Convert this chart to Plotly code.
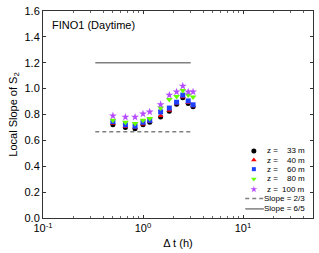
import plotly.graph_objects as go

# ---- data ----
dt_hours = [0.5, 0.667, 0.833, 1.0, 1.167, 1.5, 1.833, 2.167, 2.5, 2.833, 3.167]
heights = ["33", "40", "60", "80", "100"]
slope_z33 = [0.72, 0.70, 0.69, 0.72, 0.74, 0.78, 0.825, 0.88, 0.93, 0.885, 0.86]
slope_z40 = [0.73, 0.705, 0.70, 0.725, 0.745, 0.79, 0.83, 0.885, 0.935, 0.89, 0.865]
slope_z60 = [0.745, 0.72, 0.71, 0.74, 0.755, 0.82, 0.85, 0.895, 0.95, 0.905, 0.875]
slope_z80 = [0.755, 0.74, 0.73, 0.755, 0.77, 0.85, 0.915, 0.94, 0.985, 0.95, 0.935]
slope_z100 = [0.79, 0.78, 0.78, 0.805, 0.82, 0.877, 0.95, 0.975, 1.02, 0.975, 0.975]
ref_x = [1 / 3, 3.0]
ref_slopes = [2 / 3, 6 / 5]
ref_labels = ["Slope = 2/3", "Slope = 6/5"]

series = [slope_z33, slope_z40, slope_z60, slope_z80, slope_z100]
symbols = ["circle", "triangle-up", "square", "triangle-down", "star"]
colors = ["#000000", "#ff0000", "#1f3fff", "#66ff00", "#b64cff"]
sizes = [5, 5, 5, 6, 6]
leg_sizes = [5, 5, 4, 5, 5]
ref_dash = ["4px,3px", "solid"]
GRAY = "#808080"
FONT = "Liberation Sans, Arial, sans-serif"

fig = go.Figure()

for val, dash in zip(ref_slopes, ref_dash):
    fig.add_trace(go.Scatter(x=ref_x, y=[val, val], mode="lines",
                             line=dict(color=GRAY, width=1.5, dash=dash),
                             showlegend=False, hoverinfo="skip"))

for ys, sym, col, sz in zip(series, symbols, colors, sizes):
    fig.add_trace(go.Scatter(x=dt_hours, y=ys, mode="markers",
                             marker=dict(symbol=sym, color=col, size=sz, line=dict(width=0)),
                             showlegend=False))

# ---- custom legend on an overlay axis (fractions of plot area) ----
leg_rows = [0.324, 0.280, 0.236, 0.189, 0.138, 0.094, 0.044]
mk_x = 0.781
for i, (sym, col, sz) in enumerate(zip(symbols, colors, leg_sizes)):
    fig.add_trace(go.Scatter(x=[mk_x], y=[leg_rows[i]], mode="markers", xaxis="x2", yaxis="y2",
                             marker=dict(symbol=sym, color=col, size=sz, line=dict(width=0)),
                             showlegend=False, hoverinfo="skip"))
    fig.add_annotation(x=0.823, y=leg_rows[i], xref="x2", yref="y2", text="z =",
                       showarrow=False, xanchor="left", font=dict(size=8, family=FONT, color="#000"))
    fig.add_annotation(x=0.978, y=leg_rows[i], xref="x2", yref="y2", text=heights[i] + " m",
                       showarrow=False, xanchor="right", font=dict(size=8, family=FONT, color="#000"))
for j, (lab, dash) in enumerate(zip(ref_labels, ref_dash)):
    yy = leg_rows[5 + j]
    fig.add_trace(go.Scatter(x=[0.749, 0.818], y=[yy, yy], mode="lines", xaxis="x2", yaxis="y2",
                             line=dict(color=GRAY, width=1.5, dash=dash),
                             showlegend=False, hoverinfo="skip"))
    fig.add_annotation(x=0.978, y=yy, xref="x2", yref="y2", text=lab,
                       showarrow=False, xanchor="right", font=dict(size=8, family=FONT, color="#000"))

fig.add_annotation(x=0.026, y=0.934, xref="paper", yref="paper", text="FINO1 (Daytime)",
                   showarrow=False, xanchor="left", yanchor="middle",
                   font=dict(size=11, family=FONT, color="#000"))

minor_x = [k * 0.1 for k in range(2, 10)] + list(range(2, 10)) + [20, 30, 40, 50]

fig.update_layout(
    width=319, height=253,
    margin=dict(l=43, r=5, t=8, b=33),
    paper_bgcolor="white", plot_bgcolor="white",
    font=dict(family=FONT, size=11, color="#000"),
    showlegend=False,
    xaxis=dict(type="log", range=[-1, 1.7],
               tickmode="array", tickvals=[0.1, 1, 10],
               ticktext=["10<sup>-1</sup>", "10<sup>0</sup>", "10<sup>1</sup>"],
               ticks="inside", ticklen=3, tickcolor="#333",
               minor=dict(tickmode="array", tickvals=minor_x, ticks="inside", ticklen=2,
                          tickcolor="#666", showgrid=False),
               showline=True, linecolor="#333", linewidth=1, mirror="ticks",
               showgrid=False, zeroline=False,
               title=dict(text="Δ t (h)", font=dict(size=11), standoff=6)),
    yaxis=dict(range=[0, 1.6], dtick=0.2, tickformat=".1f",
               ticks="inside", ticklen=3, tickcolor="#333",
               showline=True, linecolor="#333", linewidth=1, mirror="ticks",
               showgrid=False, zeroline=False,
               title=dict(text="Local Slope of S<sub>2</sub>", font=dict(size=11), standoff=4)),
    xaxis2=dict(domain=[0, 1], range=[0, 1], overlaying="x", anchor="y2", visible=False,
                fixedrange=True),
    yaxis2=dict(domain=[0, 1], range=[0, 1], overlaying="y", anchor="x2", visible=False,
                fixedrange=True),
)

fig.write_html("out.html", config={"displayModeBar": False},
               post_script="document.body.style.margin='0';")
